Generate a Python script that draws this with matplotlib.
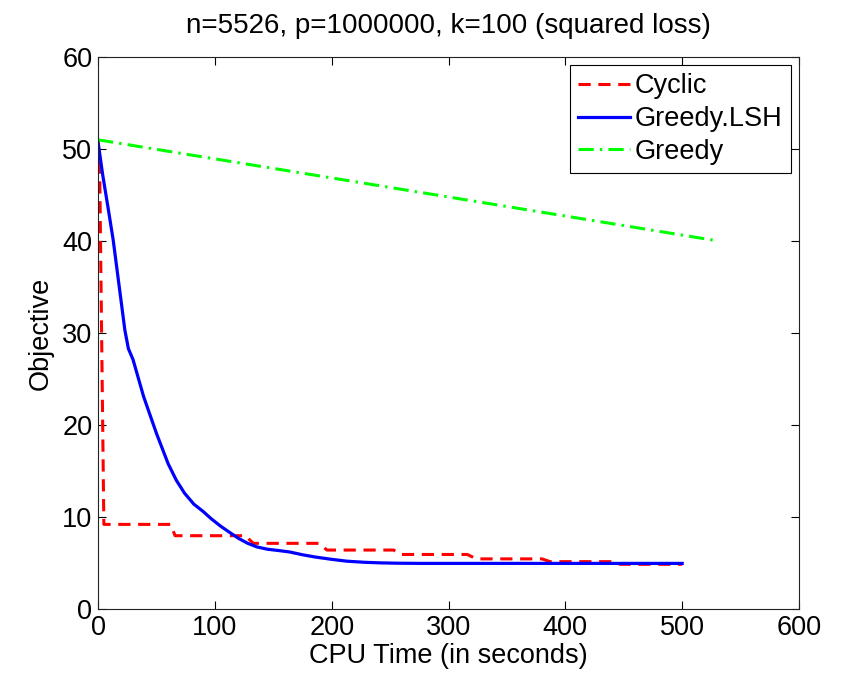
import matplotlib.pyplot as plt

plt.rcParams['font.family'] = ['Liberation Sans', 'DejaVu Sans']

# Cyclic (red dashed, step-like)
cyc_x = [0, 1.5, 5, 62, 66, 126, 133, 189, 196, 253, 259, 316, 324, 380, 387, 441, 447, 500]
cyc_y = [50.8, 47.0, 9.2, 9.2, 7.97, 7.97, 7.14, 7.14, 6.41, 6.41, 5.93, 5.93, 5.45, 5.45, 5.15, 5.15, 4.86, 4.86]

# Greedy.LSH (blue solid)
lsh_x = [0, 4, 9, 13, 18, 23, 26, 30, 39, 50, 60, 67, 74, 82, 90, 97, 105, 113, 120, 128, 136, 145, 155, 164, 175, 186, 200, 213, 228, 241, 256, 276, 500]
lsh_y = [50.8, 47.2, 43.3, 40.1, 35.2, 30.3, 28.3, 27.1, 23.1, 19.1, 15.8, 14.0, 12.6, 11.4, 10.6, 9.8, 9.0, 8.3, 7.7, 7.15, 6.75, 6.5, 6.35, 6.2, 5.9, 5.65, 5.4, 5.2, 5.08, 5.02, 4.98, 4.96, 4.96]

# Greedy (green dash-dot)
grd_x = [0, 531]
grd_y = [51.0, 40.0]

fig = plt.figure(figsize=(8.59, 6.77), dpi=100)
ax = fig.add_axes([0.1141, 0.1004, 0.8161, 0.8154])

ax.plot(cyc_x, cyc_y, color='#ff0000', lw=2.2, linestyle=(0, (4, 2.5)), label='Cyclic')
ax.plot(lsh_x, lsh_y, color='#0000ff', lw=2.3, label='Greedy.LSH')
ax.plot(grd_x, grd_y, color='#00ff00', lw=2.2, linestyle=(0, (5, 2, 0.8, 2)), label='Greedy')

ax.set_xlim(0, 600)
ax.set_ylim(0, 60)
ax.set_xticks([0, 100, 200, 300, 400, 500, 600])
ax.set_yticks([0, 10, 20, 30, 40, 50, 60])
ax.tick_params(direction='in', length=6, width=0.8, labelsize=19.5, top=True, right=True, pad=4)
for s in ax.spines.values():
    s.set_linewidth(0.8)
    s.set_color('#222222')

ax.set_title('n=5526, p=1000000, k=100 (squared loss)', fontsize=20, pad=17)
ax.set_xlabel('CPU Time (in seconds)', fontsize=19.5, labelpad=2)
ax.set_ylabel('Objective', fontsize=19.5, labelpad=6)

leg = ax.legend(loc='upper right', fontsize=19.5, fancybox=False, framealpha=1,
                edgecolor='black', handlelength=1.9, handletextpad=0.2,
                borderpad=0.3, labelspacing=0.25, borderaxespad=0.3)
leg.get_frame().set_linewidth(0.8)

fig.savefig('out.png', dpi=100)
